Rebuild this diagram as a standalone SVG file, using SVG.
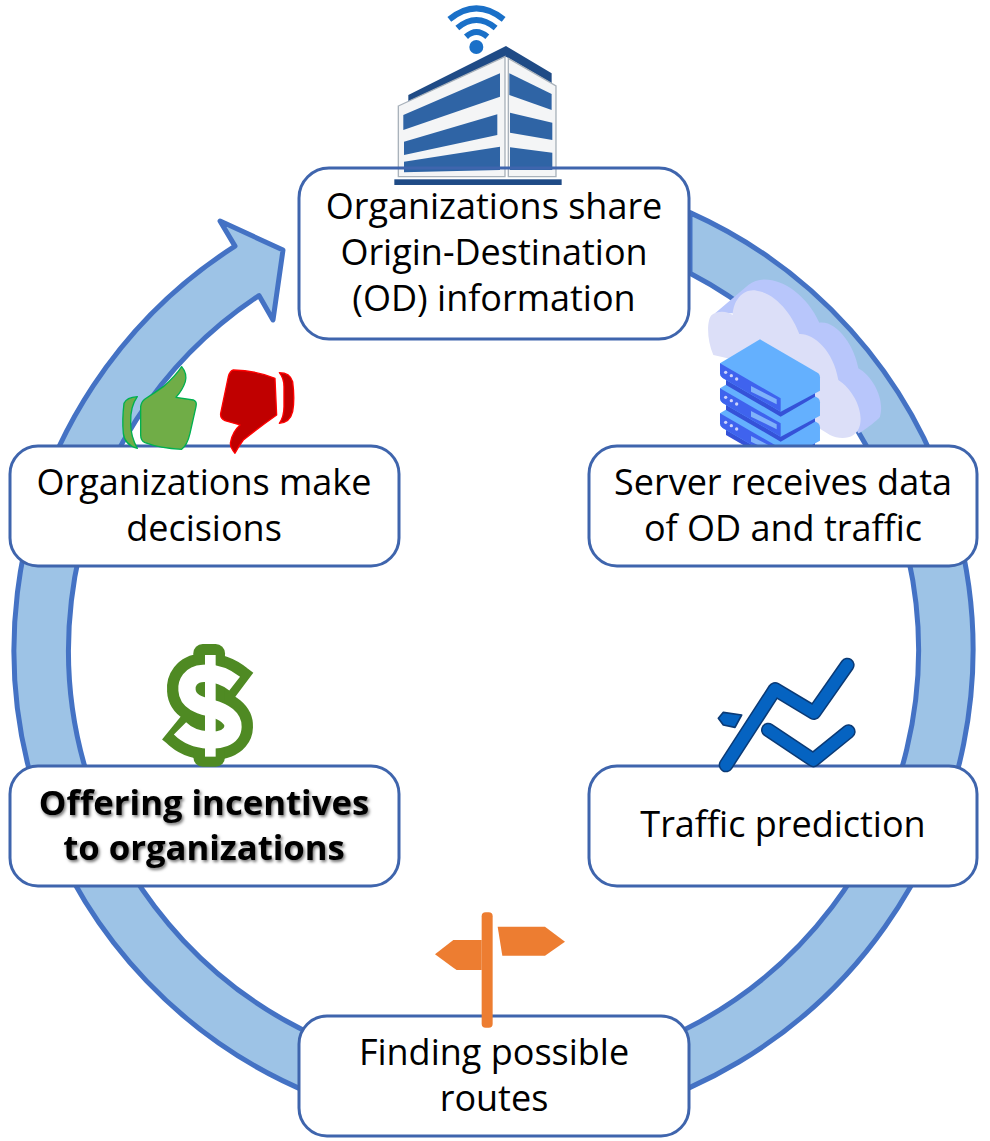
<svg xmlns="http://www.w3.org/2000/svg" width="990" height="1141" viewBox="0 0 990 1141">
<style>
.box{fill:#fff;stroke:#3f65ad;stroke-width:3}
.outline{fill:none;stroke:#3f65ad;stroke-width:3}
.t{font-family:"Open Sans","Noto Sans",sans-serif;font-size:36px;fill:#000;text-anchor:middle}
.b{font-weight:700;font-size:34.7px;filter:url(#shadow)}
.w{fill:#2f64a5}
.up{fill:#70ad47;stroke:#00b050;stroke-width:4;stroke-linejoin:round}
.dn{fill:#c00000;stroke:#ff0000;stroke-width:4;stroke-linejoin:round}
</style>
<defs>
<filter id="shadow" x="-10%" y="-20%" width="120%" height="150%"><feDropShadow dx="1.5" dy="2" stdDeviation="1.5" flood-color="#000" flood-opacity=".55"/></filter>
<g id="tier">
<path d="M108 330V345L272 440L375 380V365Z" fill="#3552d8"/>
<path d="M90 280L210 208L385 310Q390 314 390 322V362L272 425L98 324Q90 318 90 310Z" fill="#64b0fe"/>
<path d="M90 280L272 385V425L98 324Q90 318 90 310Z" fill="#3f63ee"/>
<path d="M183 348L260 388V403L183 365Z" fill="#7fb2fa"/>
<circle cx="107" cy="307" r="5" fill="#cdd4fb"/><circle cx="124" cy="317" r="5" fill="#cdd4fb"/><circle cx="140" cy="327" r="5" fill="#cdd4fb"/>
</g>
</defs>
<rect width="990" height="1141" fill="#fff"/>
<g id="connectors">
<path d="M235 246.1A479.5 479.5 0 1 0 690 212.6L690 273.2A425 425 0 1 1 259 295.6L273 320L283 250L220 221Z" fill="#9dc3e6" stroke="#4472c4" stroke-width="5" stroke-linejoin="round"/>
</g>
<g id="node-server">
<g transform="translate(690 270) scale(.3333)">
<path d="M75 130L175 45C230 0 340 50 388 158C440 150 495 230 505 295C550 320 585 390 570 440C565 450 510 490 505 490L400 300L130 130Z" fill="#b8c6fb"/>
<path d="M70 255C50 210 50 150 65 135C85 120 115 125 128 135C130 90 160 55 200 62C260 70 310 140 328 192C370 190 430 240 445 330C490 360 520 420 510 465C500 510 450 510 420 495L380 470L270 300Z" fill="#dcdff8"/>
<use href="#tier" y="150"/><use href="#tier" y="75"/><use href="#tier"/>
</g>
<rect class="box" x="589" y="446" width="388" height="120" rx="28"/>
<text class="t" x="783" y="495">Server receives data</text>
<text class="t" x="783" y="541">of OD and traffic</text>
</g>
<g id="node-share">
<rect x="299" y="168" width="390" height="171" rx="30" fill="#fff"/>
<g transform="translate(380 0) scale(.3333)">
<circle cx="289" cy="141" r="21" fill="#1a70c8"/>
<g fill="none" stroke="#1a70c8" stroke-width="18">
<path d="M258 110Q289 82 322 110"/><path d="M232 84Q289 36 347 84"/><path d="M208 58Q289 -8 371 58"/>
</g>
<path d="M85 285L378 138L515 220V250L378 170L85 305Z" fill="#1f4b86"/>
<path d="M55 318L375 170V530H55Z" fill="#f4f5f6" stroke="#a9b2bb" stroke-width="4"/>
<path d="M385 175L528 258V530H385Z" fill="#f4f5f6" stroke="#a9b2bb" stroke-width="4"/>
<path class="w" d="M70 345L360 220V290L70 390Z"/>
<path class="w" d="M72 425L352 343V405L72 465Z"/>
<path class="w" d="M72 485L360 440V510L72 517Z"/>
<path class="w" d="M388 220L515 282V330L388 285Z"/>
<path class="w" d="M390 338L517 368V420L390 398Z"/>
<path class="w" d="M390 442L517 458V510L390 510Z"/>
<rect x="43" y="538" width="502" height="17" fill="#1f4b86"/>
</g>
<rect class="outline" x="299" y="168" width="390" height="171" rx="30"/>
<text class="t" x="494" y="219">Organizations share</text>
<text class="t" x="494" y="265">Origin-Destination</text>
<text class="t" x="494" y="311">(OD) information</text>
</g>
<g id="node-decisions">
<rect class="box" x="10" y="446" width="389" height="120" rx="28"/>
<g transform="translate(100 200) scale(.3333)">
<path class="up" d="M245 500Q262 520 256 545Q248 570 228 592L280 600Q292 605 288 620L270 700Q262 735 245 748Q180 745 135 728Q122 722 122 705L122 620Q124 605 135 597Q165 578 190 560Q225 530 245 500Z"/>
<path class="up" d="M112 590Q80 592 72 610Q66 660 70 700Q74 735 112 745Q92 710 92 670Q90 620 112 590Z"/>
<path class="dn" d="M400 510Q470 512 525 535L530 645Q480 680 430 720Q415 740 405 760Q388 740 392 725Q398 695 420 675L375 662Q360 655 362 640L385 530Q390 512 400 510Z"/>
<path class="dn" d="M538 518Q570 518 578 545Q585 600 578 635Q570 668 538 670Q552 650 552 620L552 560Q552 535 538 518Z"/>
</g>
<text class="t" x="204" y="495">Organizations make</text>
<text class="t" x="204" y="541">decisions</text>
</g>
<g id="node-incentives">
<rect class="box" x="10" y="766" width="389" height="120" rx="28"/>
<g transform="translate(150 640) scale(.3333)" fill="none" stroke-linejoin="round">
<path d="M274 146L254 131C225 108 190 98 160 100C120 102 109 130 111 150C113 190 160 198 185 205C225 216 250 235 249 260C248 295 205 302 175 300C140 298 110 285 90 265L74 252" stroke="#4f8a23" stroke-width="120"/>
<rect x="130" y="12" width="95" height="368" rx="28" fill="#4f8a23"/>
<path d="M254 131C225 108 190 98 160 100C120 102 109 130 111 150C113 190 160 198 185 205C225 216 250 235 249 260C248 295 205 302 175 300C140 298 110 285 90 265" stroke="#fff" stroke-width="52"/>
<rect x="165" y="45" width="32" height="305" fill="#fff"/>
</g>
<text class="t b" x="204" y="815">Offering incentives</text>
<text class="t b" x="204" y="860">to organizations</text>
</g>
<g id="node-prediction">
<rect class="box" x="589" y="766" width="388" height="120" rx="28"/>
<g transform="translate(700 650) scale(.3333)" fill="none" stroke-linejoin="round">
<g stroke="#0b3a75">
<path d="M78 345L225 118L342 188L442 45" stroke-width="44" stroke-linecap="round"/>
<path d="M205 240L340 330L445 245" stroke-width="44" stroke-linecap="round"/>
<path d="M55 205L70 187L125 195L105 232L70 225Z" fill="#0563c1" stroke-width="5"/>
</g>
<g stroke="#0563c1">
<path d="M78 345L225 118L342 188L442 45" stroke-width="35" stroke-linecap="round"/>
<path d="M205 240L340 330L445 245" stroke-width="35" stroke-linecap="round"/>
</g>
</g>
<text class="t" x="783" y="837">Traffic prediction</text>
</g>
<g id="node-routes">
<rect class="box" x="299" y="1016" width="390" height="120" rx="28"/>
<g transform="translate(425 905) scale(.3333)" fill="#ed7d31">
<rect x="170" y="22" width="33" height="346" rx="12"/>
<path d="M30 148L85 105H170V195H95L85 188Z"/>
<path d="M218 65H360L420 110L360 152H232Z"/>
</g>
<text class="t" x="494" y="1065">Finding possible</text>
<text class="t" x="494" y="1111">routes</text>
</g>
</svg>
